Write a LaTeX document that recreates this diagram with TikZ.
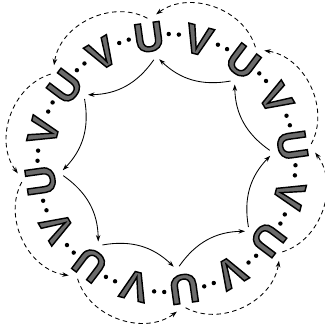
\documentclass[tikz,border=0pt]{standalone}
\usepackage{fontspec}
\newfontfamily\ringfont{Liberation Sans Bold}[FakeBold=3.5]
\usepackage{tikz}
\usetikzlibrary{arrows.meta}

\tikzset{
  letter/.style={font=\ringfont\fontsize{41pt}{44pt}\selectfont,inner sep=0pt,
    execute at begin node={\special{pdf:bc [0.42] [0]}},
    execute at end node={\special{pdf:ec}}},
  ringdot/.style={circle,fill=black,inner sep=0pt,minimum size=4.4pt},
  innerarrow/.style={-{Stealth[length=6.5pt,width=4.5pt]},line width=0.85pt,bend left=27},
  outerarrow/.style={-{Stealth[length=6.5pt,width=4.5pt]},line width=0.85pt,dash pattern=on 4.5pt off 3.5pt,bend right=55}
}

\begin{document}
\begin{tikzpicture}
\useasboundingbox (-166.5pt,-162pt) rectangle (158.5pt,163pt);
% letters U and V round the ring, two dots between each pair
\foreach \k in {0,...,7}{
  \pgfmathsetmacro\a{98-45*\k}
  \pgfmathsetmacro\b{\a-22.5}
  \node[letter,rotate=\a-90] (u\k) at (\a:127pt) {U};
  \node[letter,rotate=\b-90] (v\k) at (\b:127pt) {V};
  \node[ringdot] (du\k a) at (\a-9:129pt) {};
  \node[ringdot] (du\k b) at (\a-13.5:129pt) {};
  \node[ringdot] (dv\k a) at (\b-9:129pt) {};
  \node[ringdot] (dv\k b) at (\b-13.5:129pt) {};
  % ends of the connectors at each U
  \coordinate (it\k) at (\a-1:104pt);
  \coordinate (ih\k) at (\a-4:104pt);
  \coordinate (ot\k) at (\a-0.5:146pt);
  \coordinate (oh\k) at (\a-4:149pt);
}
% inner and outer connectors, U to next U
\foreach \k in {0,...,7}{
  \pgfmathtruncatemacro\j{mod(\k+7,8)}
  \draw[innerarrow] (it\k) to (ih\j);
  \draw[outerarrow] (ot\k) to (oh\j);
}
\end{tikzpicture}
\end{document}
